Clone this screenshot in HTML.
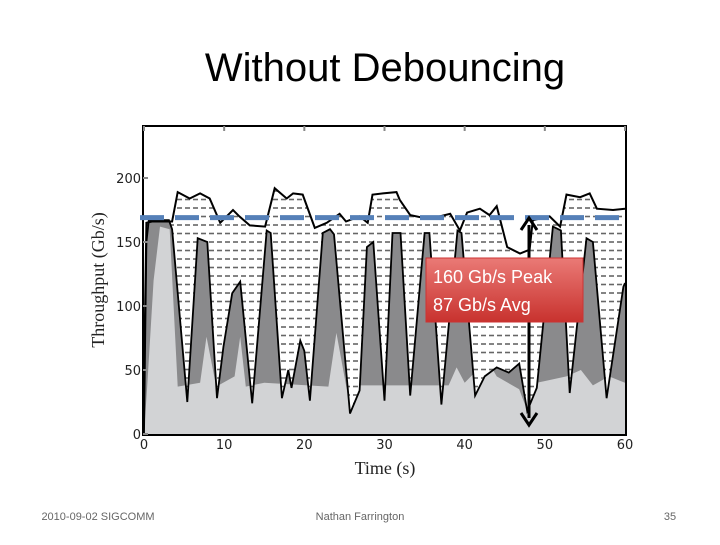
<!DOCTYPE html>
<html><head><meta charset="utf-8"><style>
body{margin:0;background:#fff;width:720px;height:540px;overflow:hidden;font-family:"Liberation Sans",sans-serif}
</style></head><body>
<svg width="720" height="540" xmlns="http://www.w3.org/2000/svg">
<defs>
<pattern id="hatch" width="8" height="8.5" patternUnits="userSpaceOnUse">
<rect width="8" height="8.5" fill="#fff"/>
<line x1="1" y1="4" x2="6" y2="4" stroke="#666" stroke-width="1.6"/>
</pattern>
<linearGradient id="redg" x1="0" y1="0" x2="0" y2="1">
<stop offset="0" stop-color="#ea7a76"/><stop offset="1" stop-color="#c8322e"/>
</linearGradient>
</defs>
<text x="385" y="81" text-anchor="middle" font-size="40" font-family="Liberation Sans, sans-serif" fill="#000">Without Debouncing</text>
<g id="chart"></g>
<text x="98" y="520" font-size="11" fill="#666" text-anchor="middle">2010-09-02 SIGCOMM</text>
<text x="360" y="520" font-size="11" fill="#666" text-anchor="middle">Nathan Farrington</text>
<text x="670" y="520" font-size="11" fill="#666" text-anchor="middle">35</text>
</svg>
<script>
const topT=[0,0.3,1,3.5,4.2,5.7,7,8.2,9.5,11.1,11.9,13.2,15.1,16.3,17.8,18.6,19.8,21.3,22.8,24.4,25.2,26.9,27.9,28.5,29.8,31.5,31.9,33.2,34.8,36.2,38.2,39.4,40.3,41.9,43.1,44,45.3,46.9,48.1,48.5,50.6,51.9,52.7,54.4,55.6,56.5,58.5,60];
const topV=[40,165,166,166,189,184,188,184,165,175,170,163,162,192,184,188,187,161,165,172,166,170,165,187,188,189,183,171,169,169,172,159,173,176,171,178,146,141,144,167,170,162,187,185,188,176,175,176];
const darkT=[0,0.3,0.6,3.1,3.5,5.4,6.7,7.9,9.1,9.9,11,12,13.5,15.3,15.8,17.2,18,18.4,19.5,20,20.7,22.3,23.2,23.7,25.7,26.9,27.8,28.6,30,31,32,33.2,35,35.6,37.1,39.1,39.6,41.3,42.5,44,45.5,46.8,47.8,49,51,52,53.1,55.2,56,57.7,59.8,60];
const darkV=[0,150,167,167,160,25,153,150,28,68,110,119,24,159,157,28,50,36,73,65,26,157,160,156,16,34,146,150,26,157,157,30,157,157,23,159,157,30,45,52,48,55,18,36,162,159,32,153,150,28,115,118];
const lightT=[0,0.4,1.2,2,3.2,4.2,7,7.8,9,11.3,12,12.7,15,23,24,25.5,26.5,30,38,39,40,42.8,44,46.8,47.7,49,52.7,54.5,56,58,60];
const lightV=[0,37,120,162,160,37,40,76,37,45,76,37,40,37,79,28,38,38,38,52,40,58,45,35,20,40,45,50,38,45,40];
const yTicks=[0,50,100,150,200];
const xTicks=[0,10,20,30,40,50,60];
const peakLine=169;
const X0=144,X1=625,Y0=434,PY=1.28;
const sx=t=>X0+(X1-X0)*t/60, sy=v=>Y0-v*PY;
const NS="http://www.w3.org/2000/svg";
const g=document.getElementById('chart');
function mk(tag,attrs,parent){const e=document.createElementNS(NS,tag);for(const k in attrs)e.setAttribute(k,attrs[k]);(parent||g).appendChild(e);return e;}
function pts(T,V){return T.map((t,i)=>sx(t).toFixed(1)+','+sy(V[i]).toFixed(1));}
function area(T,V){return 'M'+sx(T[0])+','+sy(0)+' L'+pts(T,V).join(' L')+' L'+sx(T[T.length-1])+','+sy(0)+' Z';}
function line(T,V){return 'M'+pts(T,V).join(' L');}
function band(T1,V1,T2,V2){return 'M'+pts(T1,V1).join(' L')+' L'+pts(T2,V2).reverse().join(' L')+' Z';}
const clip=mk('clipPath',{id:'pc'});mk('rect',{x:X0,y:126,width:X1-X0+1,height:Y0-126},clip);
const plot=mk('g',{'clip-path':'url(#pc)'});


const a2=mk('path',{d:area(darkT,darkV),fill:'#8a8a8c'},plot);


const a3=mk('path',{d:area(lightT,lightV),fill:'#d2d3d5'},plot);


const a1=mk('path',{d:band(topT,topV,darkT,darkV),fill:'url(#hatch)','fill-rule':'nonzero'},plot);


const l2=mk('path',{d:line(darkT,darkV),fill:'none',stroke:'#000','stroke-width':1.8},plot);


const l1=mk('path',{d:line(topT,topV),fill:'none',stroke:'#000','stroke-width':2},plot);


const fr=mk('rect',{x:143,y:126,width:483,height:309,fill:'none',stroke:'#000','stroke-width':2});


yTicks.forEach(v=>{
 const tk=mk('line',{x1:143,x2:148,y1:sy(v),y2:sy(v),stroke:'#888','stroke-width':2});
 
 
 const t=mk('text',{x:141,y:sy(v)+5,'text-anchor':'end','font-size':13,'font-family':'DejaVu Sans, sans-serif',fill:'#222'});
 t.textContent=v;
 
 
});
xTicks.forEach(v=>{
 const tk=mk('line',{x1:sx(v),x2:sx(v),y1:126,y2:131,stroke:'#888','stroke-width':2});
 
 
 const t=mk('text',{x:sx(v),y:449,'text-anchor':'middle','font-size':13,'font-family':'DejaVu Sans, sans-serif',fill:'#222'});
 t.textContent=v;
 
 
});
const yt=mk('text',{transform:'translate(104,280) rotate(-90)','text-anchor':'middle','font-size':18,'font-family':'Liberation Serif, serif',fill:'#222'});
yt.textContent='Throughput (Gb/s)';


const xt=mk('text',{x:385,y:474,'text-anchor':'middle','font-size':18,'font-family':'Liberation Serif, serif',fill:'#222'});
xt.textContent='Time (s)';


const pl=mk('line',{x1:140,x2:627,y1:sy(peakLine),y2:sy(peakLine),stroke:'#5580b8','stroke-width':5,'stroke-dasharray':'24,11'});


const ar=mk('g',{});


mk('line',{x1:529,x2:529,y1:225,y2:418,stroke:'#000','stroke-width':3},ar);
mk('path',{d:'M521,230 L529,218 L537,230',fill:'none',stroke:'#000','stroke-width':3},ar);
mk('path',{d:'M521,413 L529,425 L537,413',fill:'none',stroke:'#000','stroke-width':3},ar);
const box=mk('rect',{x:426,y:258,width:157,height:64,fill:'url(#redg)',stroke:'#c33','stroke-width':1});


const b1=mk('text',{x:433,y:283,'font-size':18,fill:'#fff'});
b1.textContent='160 Gb/s Peak';


const b2=mk('text',{x:433,y:311,'font-size':18,fill:'#fff'});
b2.textContent='87 Gb/s Avg';


</script>
</body></html>
